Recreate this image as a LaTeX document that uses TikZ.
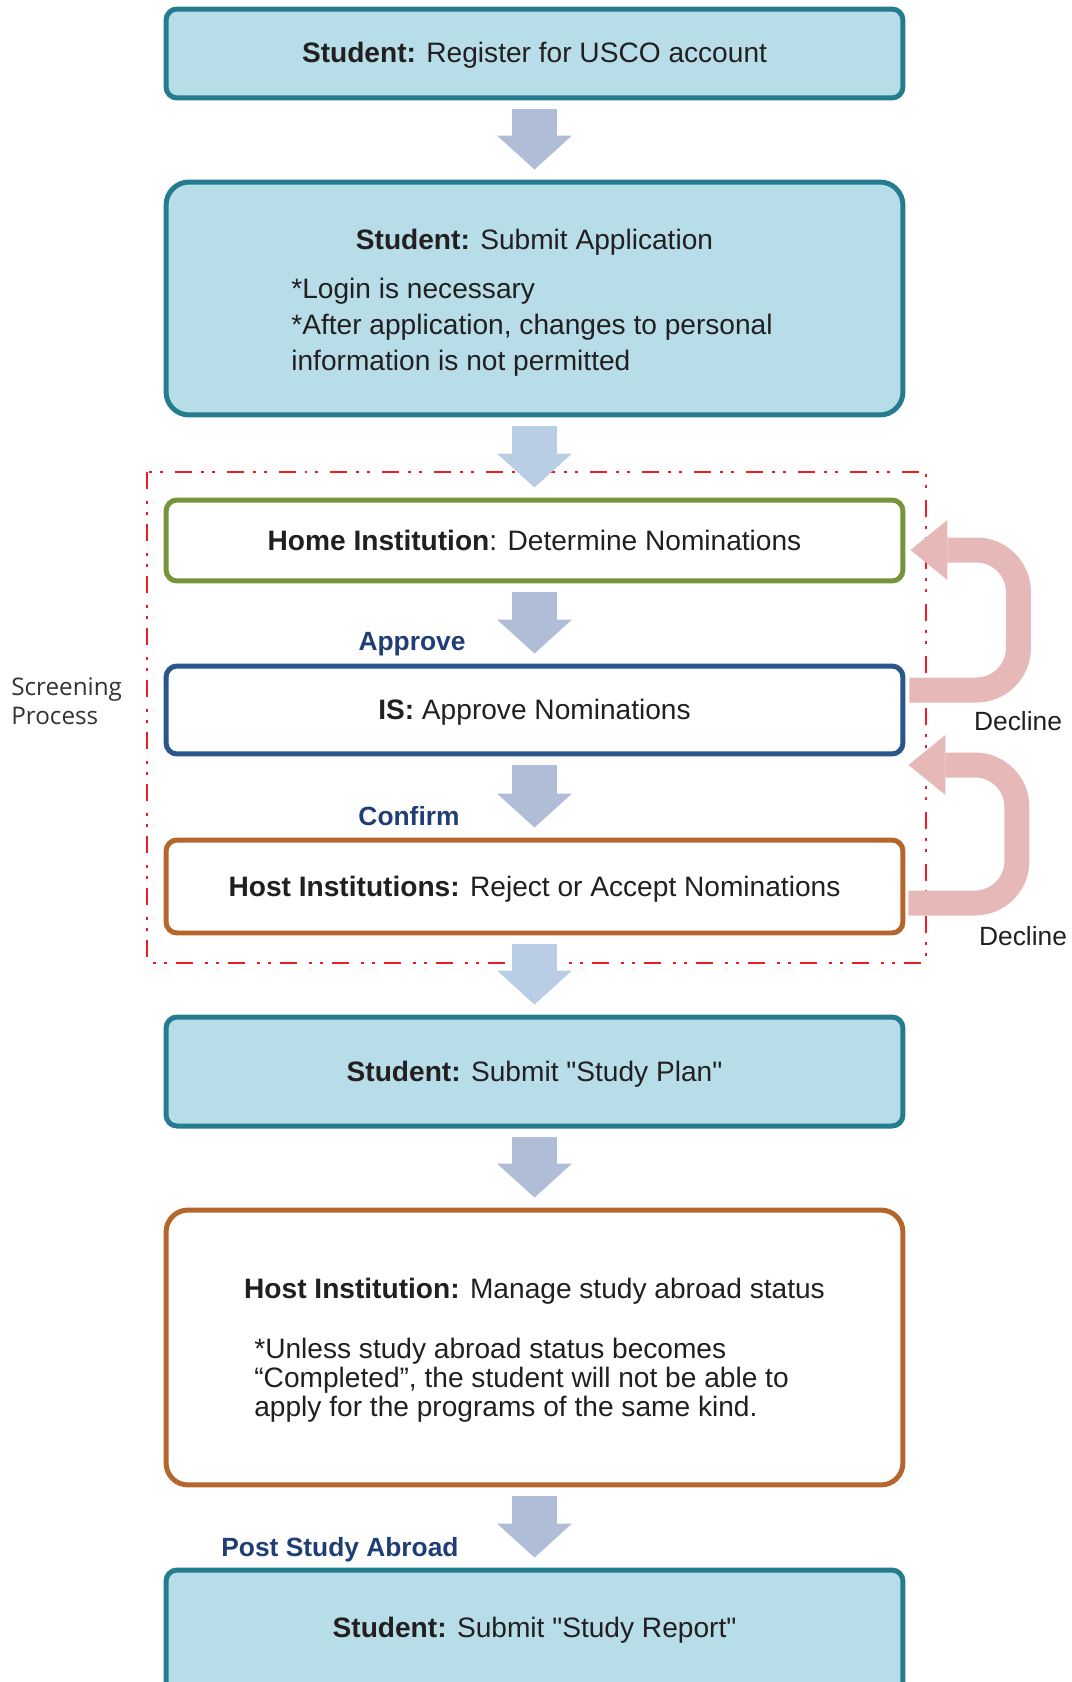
\documentclass[tikz,border=0pt]{standalone}
\usepackage{fontspec}
\setsansfont{Liberation Sans}[Ligatures=TeXOff]
\newfontfamily\screenfont{Open Sans}
\usetikzlibrary{arrows.meta,positioning,calc}
\definecolor{ink}{HTML}{231F20}
\definecolor{studentfill}{HTML}{B7DDE8}
\definecolor{studentedge}{HTML}{257C8E}
\definecolor{homeedge}{HTML}{77933C}
\definecolor{isedge}{HTML}{2B5689}
\definecolor{hostedge}{HTML}{B5662B}
\definecolor{flowcol}{HTML}{AFBDD6}
\definecolor{flowlt}{HTML}{B9CDE5}
\definecolor{declinecol}{HTML}{E6B8B7}
\definecolor{labelcol}{HTML}{1F3E75}
\definecolor{screencol}{HTML}{EE1C25}
\definecolor{screentext}{HTML}{333333}
\tikzset{
  stepbox/.style={rounded corners=0.22cm, line width=0.1cm, minimum width=14.74cm,
                  inner sep=0pt},
  studentbox/.style={stepbox, draw=studentedge, fill=studentfill},
  whitebox/.style={stepbox, fill=white},
  boxtext/.style={font=\sffamily\fontsize{16}{19}\selectfont, text=ink, anchor=mid,
                  inner sep=0pt},
  notetext/.style={font=\sffamily\fontsize{16}{20.5}\selectfont, text=ink, align=left,
                   anchor=north west, inner sep=0pt},
  steplabel/.style={font=\sffamily\bfseries\fontsize{15}{18}\selectfont, text=labelcol,
                    anchor=mid, inner sep=0pt},
  flow/.style={line width=0.9cm, draw=flowcol,
               -{Triangle[length=0.68cm,width=1.5cm,line width=0pt]},
               shorten <=0.18cm, shorten >=0.2cm},
  decline/.style={line width=0.5cm, draw=declinecol, rounded corners=0.84cm,
                  -{Triangle[length=0.74cm,width=1.2cm,line width=0pt]}},
  screenline/.style={draw=screencol, line width=0.055cm,
                     dash pattern=on 0.34cm off 0.24cm on 0.06cm off 0.16cm on 0.06cm off 0.18cm},
}

\begin{document}
\begin{tikzpicture}[x=0.02cm, y=-0.02cm]
\useasboundingbox (0,0) rectangle (1071,1682);

% ===================== boxes =====================
\node[studentbox, minimum height=1.78cm] (register) at (534.5,53.5) {};
\node[boxtext] (registerT) at (534.5,59) {\textbf{Student:} Register for USCO account};

\node[studentbox, rounded corners=0.46cm, minimum height=4.66cm] (apply) at (534.5,298.5) {};
\node[boxtext] (applyT) at (534.5,246) {\textbf{Student:} Submit Application};
\node[notetext] (applyN) at (291,278) {*Login is necessary\\
  *After application, changes to personal\\information is not permitted};

% screening frame sits behind the incoming arrow
\draw[screenline] (147,472) rectangle (926,963);

\node[whitebox, draw=homeedge, minimum height=1.62cm] (home) at (534.5,540.5) {};
\node[boxtext] (homeT) at (534.5,547) {\textbf{Home Institution}: Determine Nominations};

\node[whitebox, draw=isedge, minimum height=1.76cm] (is) at (534.5,710) {};
\node[boxtext] (isT) at (534.5,716) {\textbf{IS:} Approve Nominations};

\node[whitebox, draw=hostedge, minimum height=1.86cm] (hostnom) at (534.5,886.5) {};
\node[boxtext] (hostnomT) at (534.5,893) {\textbf{Host Institutions:} Reject or Accept Nominations};

\node[studentbox, minimum height=2.18cm] (plan) at (534.5,1071.5) {};
\node[boxtext] (planT) at (534.5,1078) {\textbf{Student:} Submit "Study Plan"};

\node[whitebox, draw=hostedge, rounded corners=0.44cm, minimum height=5.5cm] (status) at (534.5,1347.5) {};
\node[boxtext] (statusT) at (534.5,1295) {\textbf{Host Institution:} Manage study abroad status};
\node[notetext, font=\sffamily\fontsize{16}{16.5}\selectfont] (statusN) at (254,1338)
  {*Unless study abroad status becomes\\
   “Completed”, the student will not be able to\\
   apply for the programs of the same kind.};

\node[studentbox, minimum height=2.6cm] (report) at (534.5,1635) {};
\node[boxtext] (reportT) at (534.5,1634) {\textbf{Student:} Submit "Study Report"};

% ===================== flow arrows =====================
\draw[flow] (register.south) -- (apply.north);
\draw[flow, draw=flowlt] (apply.south) -- (home.north);
\draw[flow] (home.south) -- (is.north);
\draw[flow] (is.south) -- (hostnom.north);
\draw[flow, draw=flowlt] (hostnom.south) -- (plan.north);
\draw[flow] (plan.south) -- (status.north);
\draw[flow] (status.south) -- (report.north);

\node[steplabel] (approve) at (412,647) {Approve};
\node[steplabel] (confirm) at (409,822) {Confirm};
\node[steplabel] (post) at (340,1553) {Post Study Abroad};

% ===================== decline loops =====================
\draw[decline] ($(is.east)+(4,-20)$) -- ++(109,0) |- ($(home.east)+(5,9.5)$);
\draw[decline] ($(hostnom.east)+(3,16.5)$) -- ++(108.5,0) |- ($(is.east)+(3,55)$);
\node[boxtext, font=\sffamily\fontsize{15}{18}\selectfont] (decline1) at (1018,727) {Decline};
\node[boxtext, font=\sffamily\fontsize{15}{18}\selectfont] (decline2) at (1023,942) {Decline};

\node[font=\screenfont\fontsize{13.8}{16.5}\selectfont, text=screentext, align=left,
      anchor=north west, inner sep=0pt] (screening) at (11,677) {Screening\\Process};

\end{tikzpicture}
\end{document}
